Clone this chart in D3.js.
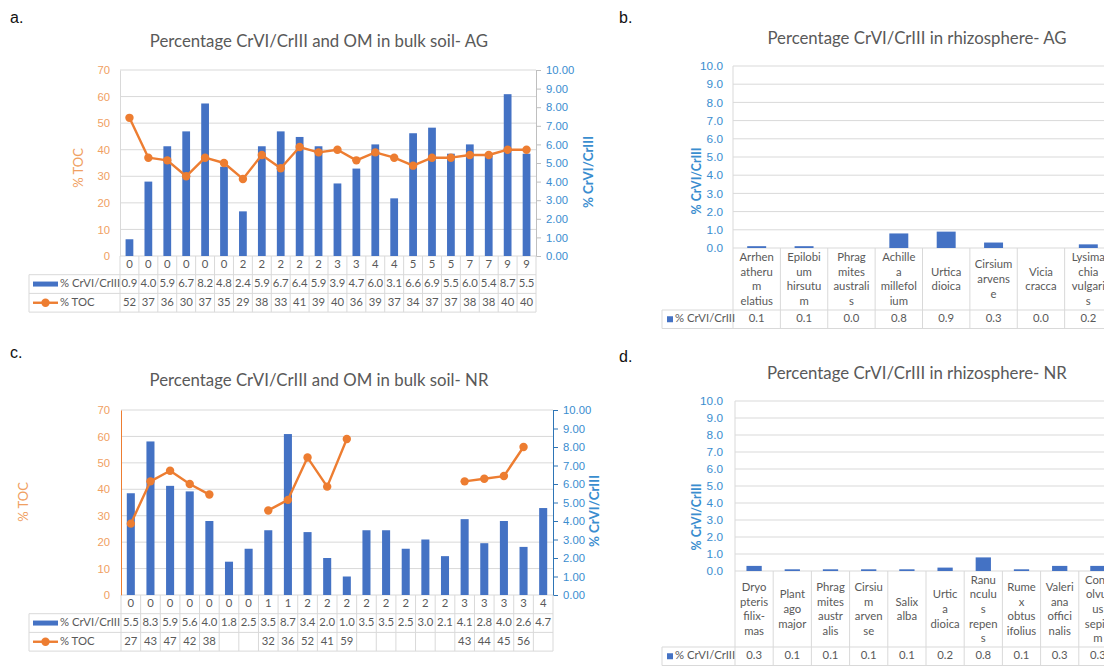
<!DOCTYPE html>
<html>
<head>
<meta charset="utf-8">
<script src="https://cdn.jsdelivr.net/npm/d3@7"></script>
<style>
  body { margin: 0; background: #fff; }
  svg { display: block; font-family: Lato, "Open Sans", sans-serif; }
</style>
</head>
<body>
<svg id="chart" width="1104" height="666"></svg>
<script>
// === DATA ===
const seriesRatio = "% CrVI/CrIII";
const seriesToc = "% TOC";

const agSamples = ["0","0","0","0","0","0","2","2","2","2","2","3","3","4","4","5","5","5","7","7","9","9"];
const agCrRatio = [0.9,4.0,5.9,6.7,8.2,4.8,2.4,5.9,6.7,6.4,5.9,3.9,4.7,6.0,3.1,6.6,6.9,5.5,6.0,5.4,8.7,5.5];
const agToc = [52,37,36,30,37,35,29,38,33,41,39,40,36,39,37,34,37,37,38,38,40,40];

const nrSamples = ["0","0","0","0","0","0","0","1","1","2","2","2","2","2","2","2","2","3","3","3","3","4"];
const nrCrRatio = [5.5,8.3,5.9,5.6,4.0,1.8,2.5,3.5,8.7,3.4,2.0,1.0,3.5,3.5,2.5,3.0,2.1,4.1,2.8,4.0,2.6,4.7];
const nrToc = [27,43,47,42,38,null,null,32,36,52,41,59,null,null,null,null,null,43,44,45,56,null];

// plant names, wrapped the way the original cells wrap them
const agPlants = ["Arrhen\natheru\nm\nelatius","Epilobi\num\nhirsutu\nm","Phrag\nmites\naustrali\ns","Achille\na\nmillefol\nium","Urtica\ndioica","Cirsium\narvens\ne","Vicia\ncracca","Lysima\nchia\nvulgari\ns"];
const agPlantRatio = [0.1,0.1,0.0,0.8,0.9,0.3,0.0,0.2];

const nrPlants = ["Dryo\npteris\nfilix-\nmas","Plant\nago\nmajor","Phrag\nmites\naustr\nalis","Cirsiu\nm\narven\nse","Salix\nalba","Urtic\na\ndioica","Ranu\nnculu\ns\nrepen\ns","Rume\nx\nobtus\nifolius","Valeri\nana\noffici\nnalis","Conv\nolvul\nus\nsepiu\nm"];
const nrPlantRatio = [0.3,0.1,0.1,0.1,0.1,0.2,0.8,0.1,0.3,0.3];

const tocTicks = [0,10,20,30,40,50,60,70];
const ratioTicks = [0,1,2,3,4,5,6,7,8,9,10];

// === STYLE ===
const blue = "#4472C4";
const orange = "#ED7D31";
const orangeText = "#F0A062";
const blueText = "#3A8DCF";
const gray = "#595959";
const grid = "#D9D9D9";
const tickFont = "11.3px";

const svg = d3.select("#chart");

function letter(txt, x, y) {
  svg.append("text").attr("x", x).attr("y", y)
    .attr("dominant-baseline", "middle")
    .style("font-family", "'Liberation Sans', Arial, sans-serif")
    .style("font-size", "16px").style("fill", "#111").text(txt);
}

function title(txt, x, y) {
  svg.append("text").attr("x", x).attr("y", y)
    .attr("text-anchor", "middle").attr("dominant-baseline", "middle")
    .style("font-size", "16.8px").style("fill", gray).text(txt);
}

function vTitle(txt, x, y, color, bold, size) {
  svg.append("text")
    .attr("transform", `translate(${x},${y}) rotate(-90)`)
    .attr("text-anchor", "middle").attr("dominant-baseline", "middle")
    .style("font-size", size).style("font-weight", bold ? 700 : 400)
    .style("fill", color).text(txt);
}

// === COMBO PANEL (bars + TOC line + data table) ===
function comboPanel(c) {
  const n = c.samples.length;
  const x = d3.scaleBand().domain(d3.range(n)).range([c.left, c.right]);
  const yToc = d3.scaleLinear().domain([0, 70]).range([c.bottom, c.top]);
  const yRatio = d3.scaleLinear().domain([0, 10]).range([c.bottom, c.top]);
  const g = svg.append("g");

  // gridlines
  g.append("g").selectAll("line").data(tocTicks).join("line")
    .attr("x1", c.left).attr("x2", c.right)
    .attr("y1", d => yToc(d)).attr("y2", d => yToc(d))
    .attr("stroke", grid).attr("stroke-width", 1);

  // left axis
  const la = g.append("g").attr("transform", `translate(${c.left},0)`)
    .call(d3.axisLeft(yToc).tickValues(tocTicks).tickSize(0).tickPadding(c.left - 110));
  la.select(".domain").attr("stroke", c.leftLine);
  la.selectAll("text").style("font-size", tickFont).style("fill", orangeText).style("font-family", null);

  // right axis
  const ra = g.append("g").attr("transform", `translate(${c.right},0)`)
    .call(d3.axisRight(yRatio).tickValues(ratioTicks).tickFormat(d3.format(".2f"))
      .tickSize(5).tickSizeOuter(0).tickPadding(5));
  ra.select(".domain").attr("stroke", c.rightLine);
  ra.selectAll("line").attr("stroke", c.rightLine);
  ra.selectAll("text").style("font-size", tickFont).style("fill", blueText).style("font-family", null);

  // bars
  const bw = x.bandwidth() * 0.41;
  g.append("g").selectAll("rect").data(c.ratio).join("rect")
    .attr("x", (d, i) => x(i) + (x.bandwidth() - bw) / 2)
    .attr("width", bw)
    .attr("y", d => yRatio(d))
    .attr("height", d => c.bottom - yRatio(d))
    .attr("fill", blue);

  // TOC line with gaps
  const line = d3.line()
    .defined(d => d != null)
    .x((d, i) => x(i) + x.bandwidth() / 2)
    .y(d => yToc(d));
  g.append("path").datum(c.toc).attr("d", line)
    .attr("fill", "none").attr("stroke", orange).attr("stroke-width", 2.4)
    .attr("stroke-linejoin", "round");
  g.append("g").selectAll("circle")
    .data(c.toc.map((v, i) => ({ v, i })).filter(d => d.v != null))
    .join("circle")
    .attr("cx", d => x(d.i) + x.bandwidth() / 2)
    .attr("cy", d => yToc(d.v))
    .attr("r", 4.2).attr("fill", orange);

  // axis titles
  vTitle(seriesToc, c.tocTitleX, c.tocTitleY, orangeText, false, "13px");
  vTitle(seriesRatio, c.ratioTitleX, c.ratioTitleY, blueText, true, "13.3px");

  // === DATA TABLE ===
  const rowH = 18.7;
  const r1 = c.bottom + rowH, r2 = r1 + rowH, r3 = r2 + rowH;
  const t = g.append("g");
  const edges = d3.range(n).map(i => x(i)).concat([c.right]);
  t.selectAll("line.v").data(edges).join("line").attr("class", "v")
    .attr("x1", d => d).attr("x2", d => d).attr("y1", c.bottom).attr("y2", r3)
    .attr("stroke", grid);
  t.selectAll("line.h").data([r1, r2, r3]).join("line").attr("class", "h")
    .attr("x1", c.tableLeft).attr("x2", c.right).attr("y1", d => d).attr("y2", d => d)
    .attr("stroke", grid);
  t.append("line").attr("x1", c.tableLeft).attr("x2", c.tableLeft)
    .attr("y1", r1).attr("y2", r3).attr("stroke", grid);

  const cellText = (vals, yMid, fmt) => t.append("g").selectAll("text").data(vals).join("text")
    .attr("x", (d, i) => x(i) + x.bandwidth() / 2).attr("y", yMid)
    .attr("text-anchor", "middle").attr("dominant-baseline", "middle")
    .style("font-size", tickFont).style("fill", gray)
    .text(d => d == null ? "" : fmt(d));
  cellText(c.samples, (c.bottom + r1) / 2, d => d);
  cellText(c.ratio, (r1 + r2) / 2, d3.format(".1f"));
  cellText(c.toc, (r2 + r3) / 2, d => d);

  // legend keys
  const lx = c.tableLeft + 4;
  t.append("rect").attr("x", lx).attr("y", (r1 + r2) / 2 - 2.5).attr("width", 25).attr("height", 5).attr("fill", blue);
  t.append("line").attr("x1", lx).attr("x2", lx + 25).attr("y1", (r2 + r3) / 2).attr("y2", (r2 + r3) / 2)
    .attr("stroke", orange).attr("stroke-width", 2.4);
  t.append("circle").attr("cx", lx + 12.5).attr("cy", (r2 + r3) / 2).attr("r", 4.2).attr("fill", orange);
  t.selectAll("text.key").data([[seriesRatio, (r1 + r2) / 2], [seriesToc, (r2 + r3) / 2]]).join("text")
    .attr("class", "key").attr("x", lx + 27).attr("y", d => d[1])
    .attr("dominant-baseline", "middle").style("font-size", tickFont).style("fill", gray)
    .text(d => d[0]);
}

// === RHIZOSPHERE PANEL (bars + label table) ===
function rhizoPanel(c) {
  const n = c.plants.length;
  const x = d3.scaleBand().domain(d3.range(n)).range([c.left, c.right]);
  const y = d3.scaleLinear().domain([0, 10]).range([c.bottom, c.top]);
  const g = svg.append("g");

  g.append("g").selectAll("line").data(ratioTicks).join("line")
    .attr("x1", c.left).attr("x2", c.right)
    .attr("y1", d => y(d)).attr("y2", d => y(d))
    .attr("stroke", grid);
  g.append("line").attr("x1", c.left).attr("x2", c.left).attr("y1", c.top).attr("y2", c.bottom).attr("stroke", grid);

  const ya = g.append("g").attr("transform", `translate(${c.left},0)`)
    .call(d3.axisLeft(y).tickValues(ratioTicks).tickFormat(d3.format(".1f")).tickSize(0).tickPadding(c.left - 723));
  ya.select(".domain").remove();
  ya.selectAll("text").style("font-size", "11.8px").style("fill", blueText).style("font-family", null);

  const bw = x.bandwidth() * 0.4;
  g.append("g").selectAll("rect").data(c.values).join("rect")
    .attr("x", (d, i) => x(i) + (x.bandwidth() - bw) / 2)
    .attr("width", bw)
    .attr("y", d => y(d))
    .attr("height", d => c.bottom - y(d))
    .attr("fill", blue);

  vTitle(seriesRatio, 698, c.titleY, blueText, true, "12.3px");

  // table
  const rowH = 18.5;
  const edges = d3.range(n).map(i => x(i)).concat([c.right]);
  g.append("g").selectAll("line").data(edges).join("line")
    .attr("x1", d => d).attr("x2", d => d).attr("y1", c.bottom).attr("y2", c.cellBottom + rowH)
    .attr("stroke", grid);
  g.append("g").selectAll("line").data([c.cellBottom, c.cellBottom + rowH]).join("line")
    .attr("x1", c.tableLeft).attr("x2", c.right).attr("y1", d => d).attr("y2", d => d)
    .attr("stroke", grid);
  g.append("line").attr("x1", c.tableLeft).attr("x2", c.tableLeft)
    .attr("y1", c.cellBottom).attr("y2", c.cellBottom + rowH).attr("stroke", grid);

  const lineH = 14.6;
  const mid = (c.bottom + c.cellBottom) / 2;
  g.append("g").selectAll("text").data(c.plants).join("text")
    .attr("text-anchor", "middle").style("font-size", "11.3px").style("fill", gray)
    .each(function (d, i) {
      const lines = d.split("\n");
      d3.select(this).selectAll("tspan").data(lines).join("tspan")
        .attr("x", x(i) + x.bandwidth() / 2)
        .attr("y", (l, k) => mid + (k - (lines.length - 1) / 2) * lineH)
        .attr("dy", "0.35em")
        .text(l => l);
    });

  const vMid = c.cellBottom + rowH / 2;
  g.append("g").selectAll("text").data(c.values).join("text")
    .attr("x", (d, i) => x(i) + x.bandwidth() / 2).attr("y", vMid)
    .attr("text-anchor", "middle").attr("dominant-baseline", "middle")
    .style("font-size", "11.3px").style("fill", gray)
    .text(d3.format(".1f"));

  g.append("rect").attr("x", c.tableLeft + 5).attr("y", vMid - 3).attr("width", 6).attr("height", 6).attr("fill", blue);
  g.append("text").attr("x", c.tableLeft + 13).attr("y", vMid)
    .attr("dominant-baseline", "middle").style("font-size", "11.3px").style("fill", gray)
    .text(seriesRatio);
}

// === DRAW ===
letter("a.", 10, 19);
title("Percentage CrVI/CrIII and OM in bulk soil- AG", 319, 43);
comboPanel({
  samples: agSamples, ratio: agCrRatio, toc: agToc,
  left: 120, right: 536, top: 70, bottom: 256, tableLeft: 29,
  leftLine: grid, rightLine: "#BFBFBF",
  tocTitleX: 80, tocTitleY: 168, ratioTitleX: 590, ratioTitleY: 172
});

letter("c.", 10, 354);
title("Percentage CrVI/CrIII and OM in bulk soil- NR", 319, 382);
comboPanel({
  samples: nrSamples, ratio: nrCrRatio, toc: nrToc,
  left: 121, right: 553, top: 410, bottom: 595, tableLeft: 29,
  leftLine: orange, rightLine: "#2E75B6",
  tocTitleX: 25, tocTitleY: 502, ratioTitleX: 596, ratioTitleY: 511
});

letter("b.", 619, 19);
title("Percentage CrVI/CrIII in rhizosphere- AG", 917, 40);
rhizoPanel({
  plants: agPlants, values: agPlantRatio,
  left: 733, right: 1112, top: 66, bottom: 248, cellBottom: 310, tableLeft: 662, titleY: 181
});

letter("d.", 619, 358);
title("Percentage CrVI/CrIII in rhizosphere- NR", 917, 375);
rhizoPanel({
  plants: nrPlants, values: nrPlantRatio,
  left: 735, right: 1117, top: 401, bottom: 571, cellBottom: 647, tableLeft: 662, titleY: 517
});
</script>
</body>
</html>
